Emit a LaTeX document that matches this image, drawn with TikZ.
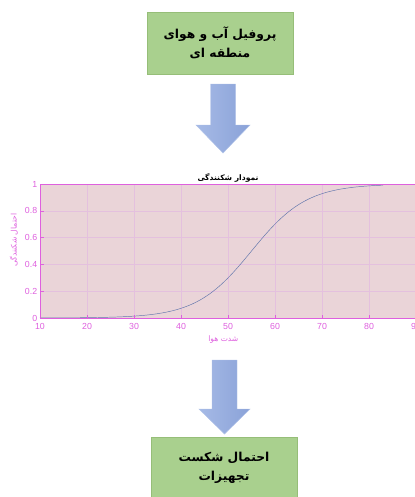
\documentclass[tikz,border=0pt]{standalone}
\usepackage{fontspec}
\setmainfont{Liberation Sans}
\newfontfamily\farsifont[Script=Arabic]{DejaVu Sans}
\TeXXeTstate=1
\usepackage{tikz}
\usetikzlibrary{positioning}
\definecolor{boxgreen}{RGB}{169,208,142}
\definecolor{boxedge}{RGB}{150,190,120}
\definecolor{arrowlight}{RGB}{166,186,230}
\definecolor{arrowdark}{RGB}{138,162,216}
\definecolor{arrowedge}{RGB}{176,194,232}
\definecolor{plotbg}{RGB}{234,212,216}
\definecolor{gridpink}{RGB}{228,192,222}
\definecolor{axmag}{RGB}{222,96,222}
\definecolor{curveblue}{RGB}{98,118,172}

\tikzset{
  stepbox/.style={draw=boxedge, fill=boxgreen, minimum width=4.38cm,
    minimum height=1.86cm, align=center,
    font=\farsifont\bfseries\fontsize{10.5}{16}\selectfont},
  blockarrow/.style={left color=arrowlight, right color=arrowdark, draw=arrowedge},
  ticklabel/.style={text=axmag, font=\fontsize{7.5}{8}\selectfont, inner sep=1pt},
  axislabel/.style={text=axmag, font=\farsifont\fontsize{6.5}{8}\selectfont, inner sep=1pt}
}

\begin{document}
\begin{tikzpicture}[x=0.03cm, y=-0.03cm]
			\useasboundingbox (0,0) rectangle (415,497);
			\def\sw{12.5}
			
			% input and output blocks
			\node[stepbox] (climate) at (220,43)
			  {\beginR پروفیل آب و هوای\endR\\\beginR منطقه ای\endR};
			\node[stepbox] (failure) at (224,468)
			  {\beginR احتمال شکست\endR\\\beginR تجهیزات\endR};
			
			\coordinate (arrowin) at (223,84);
			\coordinate (arrowout) at (224.5,360);
			
			% down arrows
			\begin{scope}[shift={(arrowin)}]
			  \path[blockarrow] (-\sw,0) -- (\sw,0) -- (\sw,41) -- (27,41)
			    -- (0,69) -- (-27,41) -- (-\sw,41) -- cycle;
			\end{scope}
			\begin{scope}[shift={(arrowout)}]
			  \path[blockarrow] (-\sw,0) -- (\sw,0) -- (\sw,49) -- (25.5,49)
			    -- (0,74) -- (-25.5,49) -- (-\sw,49) -- cycle;
			\end{scope}
			
			% fragility plot, data units
			\begin{scope}[shift={(40,318)}, x=0.141cm, y=4.02cm]
			  \fill[plotbg] (0,0) rectangle (80,1);
			  \foreach \d in {20,30,...,80}
			    \draw[gridpink, very thin] (\d-10,0) -- (\d-10,1);
			  \foreach \v in {0.2,0.4,0.6,0.8}
			    \draw[gridpink, very thin] (0,\v) -- (80,\v);
			  \draw[curveblue, thin] plot[domain=10:83, samples=120, smooth]
			    (\x-10, {1/(1+exp(-0.1702*(\x-55)))});
			  \draw[axmag, thin] (0,0) rectangle (80,1);
			  \foreach \d in {10,20,...,90} {
			    \draw[axmag, thin] (\d-10,0) -- ++(0,0.02);
			    \node[ticklabel, anchor=north] (xt\d) at (\d-10,-0.032) {\d};
			  }
			  \foreach \v in {0,0.2,0.4,0.6,0.8,1} {
			    \draw[axmag, thin] (0,\v) -- ++(0.8,0);
			    \node[ticklabel, anchor=east] (yt\v) at (-0.3,\v) {\v};
			  }
			  \node[font=\farsifont\bfseries\fontsize{6.5}{8}\selectfont, anchor=south,
			    inner sep=1pt] (title) at (40,1.005) {\beginR نمودار شکنندگی\endR};
			  \node[axislabel, anchor=north] (xlabel) at (39,-0.12) {\beginR شدت هوا\endR};
			  \node[axislabel, rotate=90] (ylabel) at (-5.6,0.58) {\beginR احتمال شکنندگی\endR};
			\end{scope}
			
		\end{tikzpicture}
\end{document}
